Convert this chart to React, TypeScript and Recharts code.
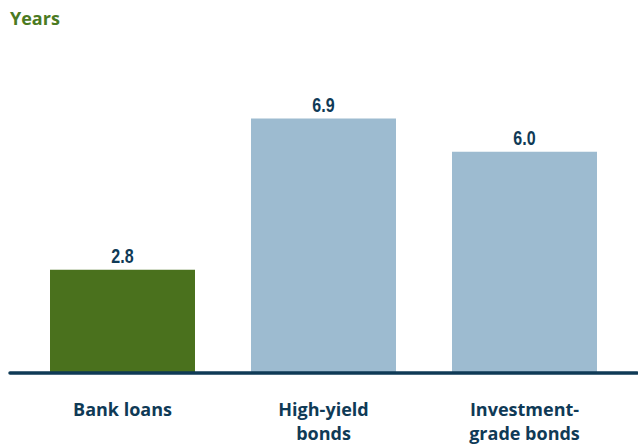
import { Bar, BarChart, Cell, LabelList, XAxis, YAxis } from "recharts";

const categories = ["Bank loans", "High-yield bonds", "Investment-grade bonds"];
const tickLines = [["Bank loans"], ["High-yield", "bonds"], ["Investment-", "grade bonds"]];
const years = [2.8, 6.9, 6.0];
const barColors = ["#4a711d", "#9dbbd0", "#9dbbd0"];

const data = categories.map((name, i) => ({ name, years: years[i], idx: i }));

const NAVY = "#0f3a56";

function CategoryTick({ x, y, payload }: any) {
  const lines = tickLines[payload.index] ?? [payload.value];
  return (
    <text x={x} y={y} textAnchor="middle" fill={NAVY} fontFamily="'Open Sans', sans-serif" fontWeight={700} fontSize={18}>
      {lines.map((l, i) => (
        <tspan key={i} x={x} dy={i === 0 ? 35 : 24}>{l}</tspan>
      ))}
    </text>
  );
}

// narrow, condensed value label above each bar
function ValueLabel({ x, y, width, value }: any) {
  const cx = Number(x) + Number(width) / 2;
  const by = Number(y) - 7;
  return (
    <text
      x={0}
      y={0}
      transform={`translate(${cx},${by}) scale(0.8,1)`}
      textAnchor="middle"
      fill={NAVY}
      fontFamily="'Liberation Sans', Arial, sans-serif"
      fontWeight={700}
      fontSize={20}
    >
      {Number(value).toFixed(1)}
    </text>
  );
}

export default function App() {
  return (
    <div style={{ position: "absolute", left: 0, top: 0, width: 638, height: 447, background: "white" }}>
      <div style={{ position: "absolute", left: 10, top: 6, fontFamily: "'Open Sans', sans-serif", fontWeight: 700, fontSize: 18, color: "#4b7a22" }}>
        Years
      </div>
      <BarChart width={638} height={447} data={data} margin={{ top: 78, right: 1, bottom: 0, left: 10 }} barSize={145}>
        <YAxis hide domain={[0, 8]} />
        <XAxis
          dataKey="name"
          height={74}
          padding={{ left: 12, right: 12 }}
          tickLine={false}
          axisLine={{ stroke: NAVY, strokeWidth: 3.5, strokeLinecap: "round" }}
          tick={<CategoryTick />}
          interval={0}
        />
        <Bar dataKey="years" isAnimationActive={false}>
          {data.map((d, i) => (
            <Cell key={d.name} fill={barColors[i]} />
          ))}
          <LabelList dataKey="years" content={<ValueLabel />} />
        </Bar>
      </BarChart>
    </div>
  );
}
